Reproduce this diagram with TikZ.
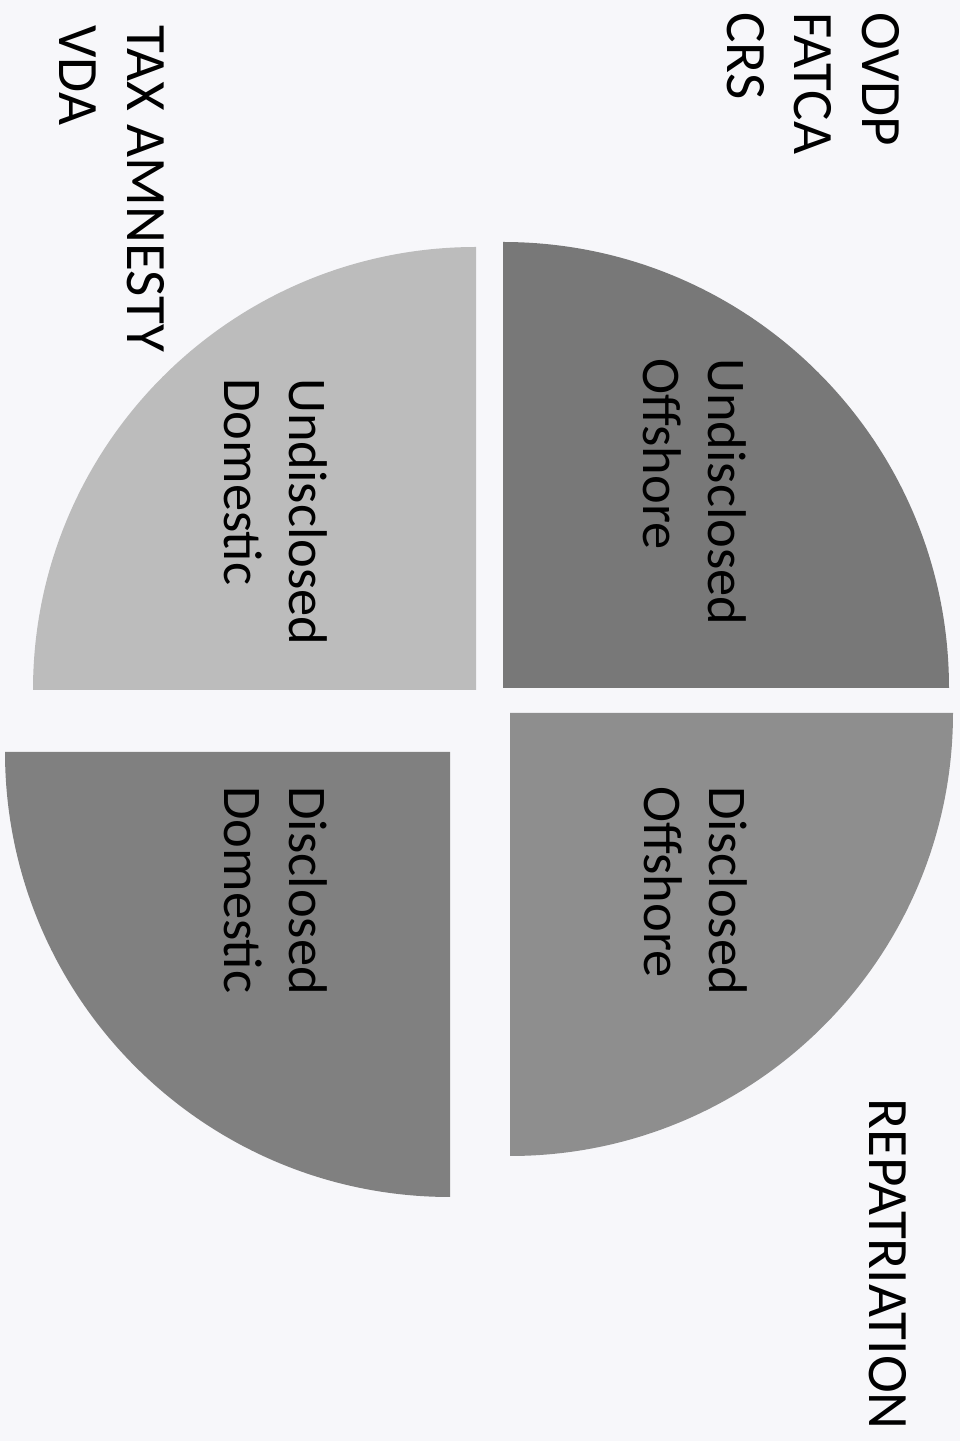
\documentclass[tikz,border=0pt]{standalone}
\usepackage{fontspec}
\setmainfont{Carlito}
\usepackage{tikz}
\usetikzlibrary{positioning}

\definecolor{paper}{RGB}{247,247,250}
\definecolor{qUO}{RGB}{120,120,120}
\definecolor{qDO}{RGB}{142,142,142}
\definecolor{qUD}{RGB}{188,188,188}
\definecolor{qDD}{RGB}{128,128,128}

\begin{document}
\begin{tikzpicture}[
    x=0.02cm, y=0.02cm,
    sect/.style={draw=none},
    lbl/.style={rotate=-90, anchor=north west, inner sep=0pt, align=left,
                font=\fontsize{31}{37}\selectfont},
    hdr/.style={rotate=-90, anchor=north west, inner sep=0pt, align=left,
                font=\fontsize{32.5}{38.5}\selectfont},
  ]

  %% ===== PAGE =====
  \fill[paper] (0,0) rectangle (960,1441);
  \useasboundingbox (0,0) rectangle (960,1441);

  %% ===== QUARTERS =====
  \coordinate (cUO) at (503,753);
  \coordinate (cDO) at (510,728);
  \coordinate (cUD) at (476,751);
  \coordinate (cDD) at (450,689);

  \fill[sect, qUO] (cUO) -- +(0,446) arc[start angle=90, end angle=0, radius=446] -- cycle;
  \fill[sect, qDO] (cDO) -- +(443,0) arc[start angle=0, end angle=-90, radius=443] -- cycle;
  \fill[sect, qUD] (cUD) -- +(-443,0) arc[start angle=180, end angle=90, radius=443] -- cycle;
  \fill[sect, qDD] (cDD) -- +(0,-445) arc[start angle=270, end angle=180, radius=445] -- cycle;

  %% quarter labels
  \node[lbl] (tUO) at (747,1083) {Undisclosed\\Offshore};
  \node[lbl] (tUD) at (328,1063) {Undisclosed\\Domestic};
  \node[lbl] (tDO) at (748,655)  {Disclosed\\Offshore};
  \node[lbl] (tDD) at (328,655)  {Disclosed\\Domestic};

  %% ===== PROGRAMMES =====
  \node[hdr] (hOff)  at (900,1429) {OVDP\\FATCA\\CRS};
  \node[hdr] (hDom)  at (165,1416) {TAX AMNESTY\\VDA};
  \node[hdr] (hRep)  at (907,343)  {REPATRIATION};

\end{tikzpicture}
\end{document}
